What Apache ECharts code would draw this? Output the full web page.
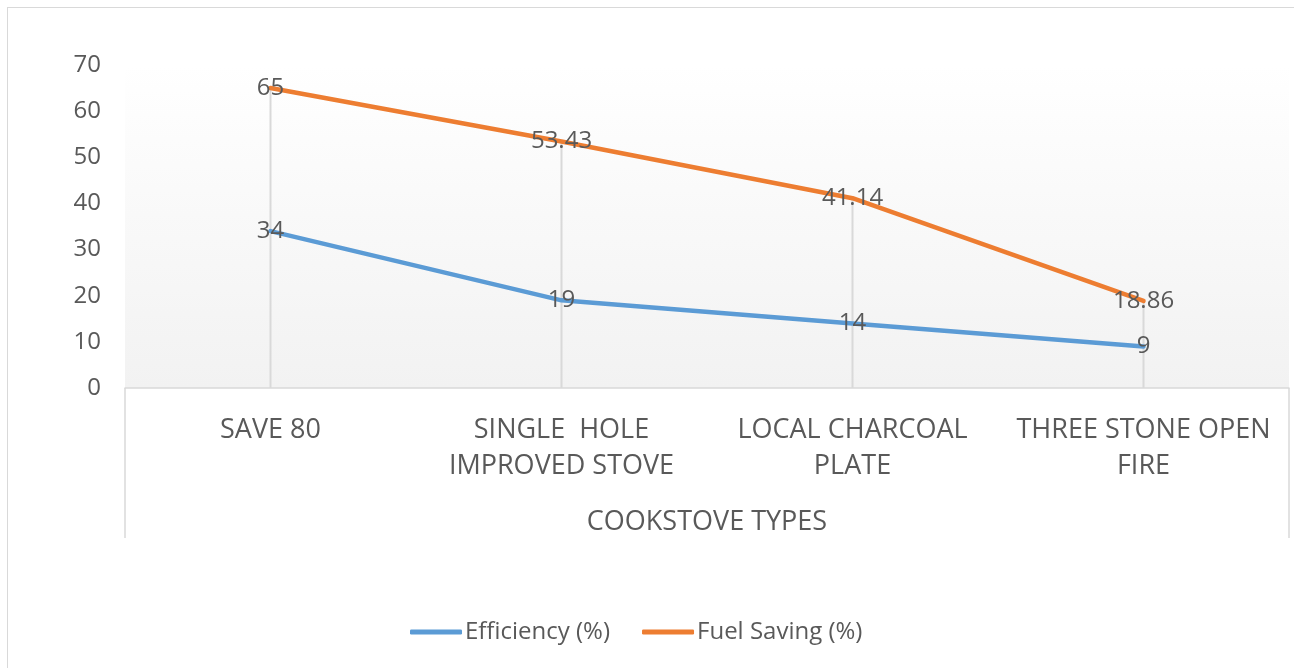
<!DOCTYPE html>
<html>
<head>
<meta charset="utf-8">
<script src="https://cdn.jsdelivr.net/npm/echarts@6/dist/echarts.min.js"></script>
<style>
  html, body { margin: 0; padding: 0; background: #ffffff; }
  #frame { position: absolute; left: 7px; top: 7px; width: 1290px; height: 670px; border: 1px solid #d9d9d9; box-sizing: border-box; }
  #chart { position: absolute; left: 0; top: 0; width: 1294px; height: 668px; }
</style>
</head>
<body>
<div id="frame"></div>
<div id="chart"></div>
<script>
// ---- data ----
const categories = ['SAVE 80', 'SINGLE  HOLE\nIMPROVED STOVE', 'LOCAL CHARCOAL\nPLATE', 'THREE STONE OPEN\nFIRE'];
const groupLabel = ['COOKSTOVE TYPES'];
const efficiency = [34, 19, 14, 9];
const fuelSaving = [65, 53.43, 41.14, 18.86];
const yTicks = { min: 0, max: 70, interval: 10 };
const seriesNames = ['Efficiency (%)', 'Fuel Saving (%)'];

const FONT = '"Open Sans", "Liberation Sans", sans-serif';
const TXT = '#595959';
const BLUE = '#5B9BD5';
const ORANGE = '#ED7D31';

const chart = echarts.init(document.getElementById('chart'), null, { renderer: 'canvas' });

const labelCfg = {
  show: true,
  position: 'inside',
  color: TXT,
  fontFamily: FONT,
  fontSize: 24,
  formatter: p => String(p.value)
};

chart.setOption({
  backgroundColor: 'transparent',
  textStyle: { fontFamily: FONT, color: TXT },
  grid: {
    left: 125, right: 5, top: 65, bottom: 280,
    show: true,
    borderWidth: 0,
    backgroundColor: {
      type: 'linear', x: 0, y: 0, x2: 0, y2: 1,
      colorStops: [
        { offset: 0, color: '#ffffff' },
        { offset: 1, color: '#f2f2f2' }
      ]
    }
  },
  legend: {
    data: seriesNames.map(n => ({ name: n, icon: 'roundRect' })),
    bottom: 17,
    left: 405,
    itemWidth: 52,
    itemHeight: 5,
    itemGap: 32,
    textStyle: { fontFamily: FONT, fontSize: 24, color: TXT, lineHeight: 28, padding: [0, 0, 0, -2] }
  },
  xAxis: [
    {
      type: 'category',
      data: categories,
      boundaryGap: true,
      axisLine: { show: true, lineStyle: { color: '#d9d9d9', width: 1.5 } },
      axisTick: { show: false },
      axisLabel: {
        color: TXT, fontFamily: FONT, fontSize: 27, lineHeight: 36, margin: 24,
        interval: 0, align: 'center'
      },
      splitLine: { show: false }
    },
    {
      type: 'category',
      position: 'bottom',
      data: groupLabel,
      boundaryGap: true,
      axisLine: { show: false },
      axisTick: { show: true, length: 150, lineStyle: { color: '#d9d9d9', width: 1.5 } },
      axisLabel: { color: TXT, fontFamily: FONT, fontSize: 27, lineHeight: 30, margin: 119 },
      splitLine: { show: false }
    }
  ],
  yAxis: {
    type: 'value',
    min: yTicks.min, max: yTicks.max, interval: yTicks.interval,
    axisLine: { show: false },
    axisTick: { show: false },
    splitLine: { show: false },
    axisLabel: { color: TXT, fontFamily: FONT, fontSize: 24, margin: 24 }
  },
  series: [
    {
      name: 'drop',
      type: 'bar',
      xAxisIndex: 0,
      data: fuelSaving,
      barWidth: 2,
      itemStyle: { color: '#d9d9d9' },
      silent: true,
      z: 1
    },
    {
      name: seriesNames[0],
      type: 'line',
      xAxisIndex: 0,
      data: efficiency,
      symbol: 'circle',
      symbolSize: 0.1,
      lineStyle: { color: BLUE, width: 4.5, cap: 'round' },
      itemStyle: { color: BLUE },
      label: labelCfg,
      z: 3
    },
    {
      name: seriesNames[1],
      type: 'line',
      xAxisIndex: 0,
      data: fuelSaving,
      symbol: 'circle',
      symbolSize: 0.1,
      lineStyle: { color: ORANGE, width: 4.5, cap: 'round' },
      itemStyle: { color: ORANGE },
      label: labelCfg,
      z: 3
    }
  ],
  animation: false
});
</script>
</body>
</html>
